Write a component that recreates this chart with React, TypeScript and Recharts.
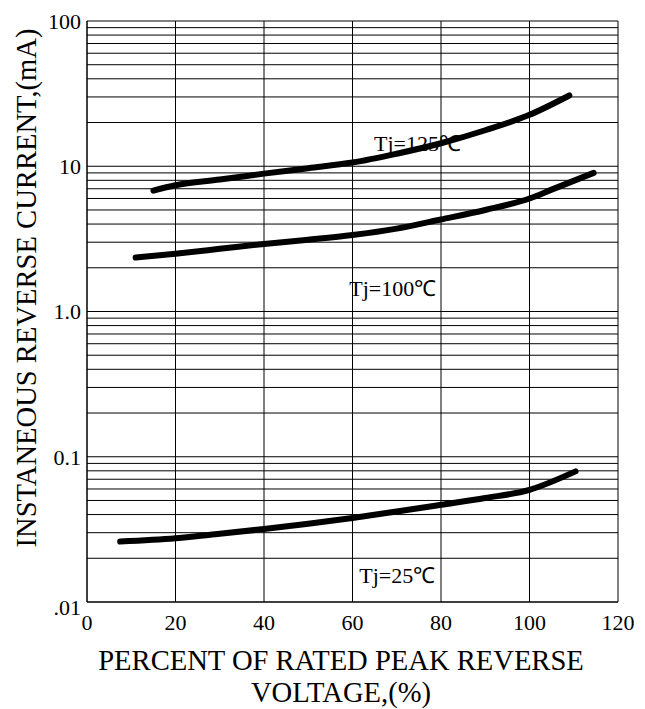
import { LineChart, Line, XAxis, YAxis, CartesianGrid, ReferenceLine, ReferenceDot } from 'recharts';

const FONT = '"Liberation Serif", "Times New Roman", serif';

// percent of rated peak reverse voltage / instantaneous reverse current (mA)
const tj125X = [15, 20, 30, 40, 50, 60, 70, 80, 90, 100, 109];
const tj125Y = [6.8, 7.4, 8.1, 8.9, 9.7, 10.6, 12.2, 14.4, 17.7, 22.6, 30.7];

const tj100X = [11, 20, 30, 40, 50, 60, 70, 80, 90, 100, 105, 114.5];
const tj100Y = [2.35, 2.5, 2.7, 2.92, 3.12, 3.36, 3.72, 4.3, 5.0, 6.0, 6.9, 9.0];

const tj25X = [7.5, 20, 30, 40, 50, 60, 70, 80, 90, 100, 110.4];
const tj25Y = [0.0261, 0.0275, 0.0295, 0.0318, 0.0346, 0.0379, 0.042, 0.0467, 0.052, 0.0592, 0.0793];

const xTicks = [0, 20, 40, 60, 80, 100, 120];
const yTicks = [0.01, 0.1, 1, 10, 100];
const yTickLabels = ['.01', '0.1', '1.0', '10', '100'];

const decades = [0.01, 0.1, 1, 10];
const minorSteps = [1, 2, 3, 4, 5, 6, 7, 8, 9];

const curveLabels = [
  { text: 'Tj=125℃', x: 74.7, y: 14.5 },
  { text: 'Tj=100℃', x: 69.1, y: 1.45 },
  { text: 'Tj=25℃', x: 70.1, y: 0.0152 },
];

const toRows = (xs: number[], ys: number[]) => xs.map((v, i) => ({ v, i: ys[i] }));

const gridValues = [...decades.flatMap((d) => minorSteps.map((m) => d * m)), 100];

const textStyle = { fontFamily: FONT, fontSize: 22, fill: '#000' };

function YTick(props: any) {
  const { x, y, payload } = props;
  const idx = yTicks.indexOf(payload.value);
  const shift = payload.value === 0.01 ? 5 : 0;
  return (
    <text x={x} y={y + shift} dy="0.355em" textAnchor="end" style={textStyle}>
      {idx >= 0 ? yTickLabels[idx] : payload.value}
    </text>
  );
}

function XTick(props: any) {
  const { x, y, payload } = props;
  return (
    <text x={x} y={y} dy="0.71em" textAnchor="middle" style={textStyle}>
      {payload.value}
    </text>
  );
}

export default function App() {
  return (
    <div style={{ position: 'absolute', left: 0, top: 0, background: '#fff' }}>
      <LineChart width={645} height={709} margin={{ top: 21, right: 27, bottom: 67, left: 27 }}>
        <CartesianGrid horizontal={false} stroke="#000" strokeWidth={1} />
        {gridValues.map((g) => (
          <ReferenceLine key={g} y={g} stroke="#000" strokeWidth={1} />
        ))}
        <XAxis
          type="number"
          dataKey="v"
          domain={[0, 120]}
          ticks={xTicks}
          allowDataOverflow
          height={40}
          tickLine={false}
          tickSize={0}
          tickMargin={12}
          axisLine={{ stroke: '#000' }}
          tick={<XTick />}
          label={{
            content: () => (
              <text textAnchor="middle" style={{ fontFamily: FONT, fontSize: 28.6, fill: '#000' }}>
                <tspan x={341} y={670}>PERCENT OF RATED PEAK REVERSE</tspan>
                <tspan x={341} y={701.5}>VOLTAGE,(%)</tspan>
              </text>
            ),
          }}
        />
        <YAxis
          type="number"
          scale="log"
          domain={[0.01, 100]}
          ticks={yTicks}
          allowDataOverflow
          width={60}
          tickLine={false}
          tickSize={0}
          tickMargin={6}
          axisLine={{ stroke: '#000' }}
          tick={<YTick />}
          label={{
            content: () => (
              <text
                x={26}
                y={288}
                dy="0.35em"
                transform="rotate(-90, 26, 288)"
                textAnchor="middle"
                style={{ fontFamily: FONT, fontSize: 28.6, fill: '#000' }}
              >
                INSTANEOUS REVERSE CURRENT,(mA)
              </text>
            ),
          }}
        />
        <Line data={toRows(tj125X, tj125Y)} dataKey="i" type="monotone" stroke="#000" strokeWidth={6} strokeLinecap="round" dot={false} isAnimationActive={false} />
        <Line data={toRows(tj100X, tj100Y)} dataKey="i" type="monotone" stroke="#000" strokeWidth={6} strokeLinecap="round" dot={false} isAnimationActive={false} />
        <Line data={toRows(tj25X, tj25Y)} dataKey="i" type="monotone" stroke="#000" strokeWidth={6} strokeLinecap="round" dot={false} isAnimationActive={false} />
        {curveLabels.map((c) => (
          <ReferenceDot
            key={c.text}
            x={c.x}
            y={c.y}
            r={0}
            fill="none"
            stroke="none"
            label={{ value: c.text, position: 'center', style: textStyle }}
          />
        ))}
      </LineChart>
    </div>
  );
}
